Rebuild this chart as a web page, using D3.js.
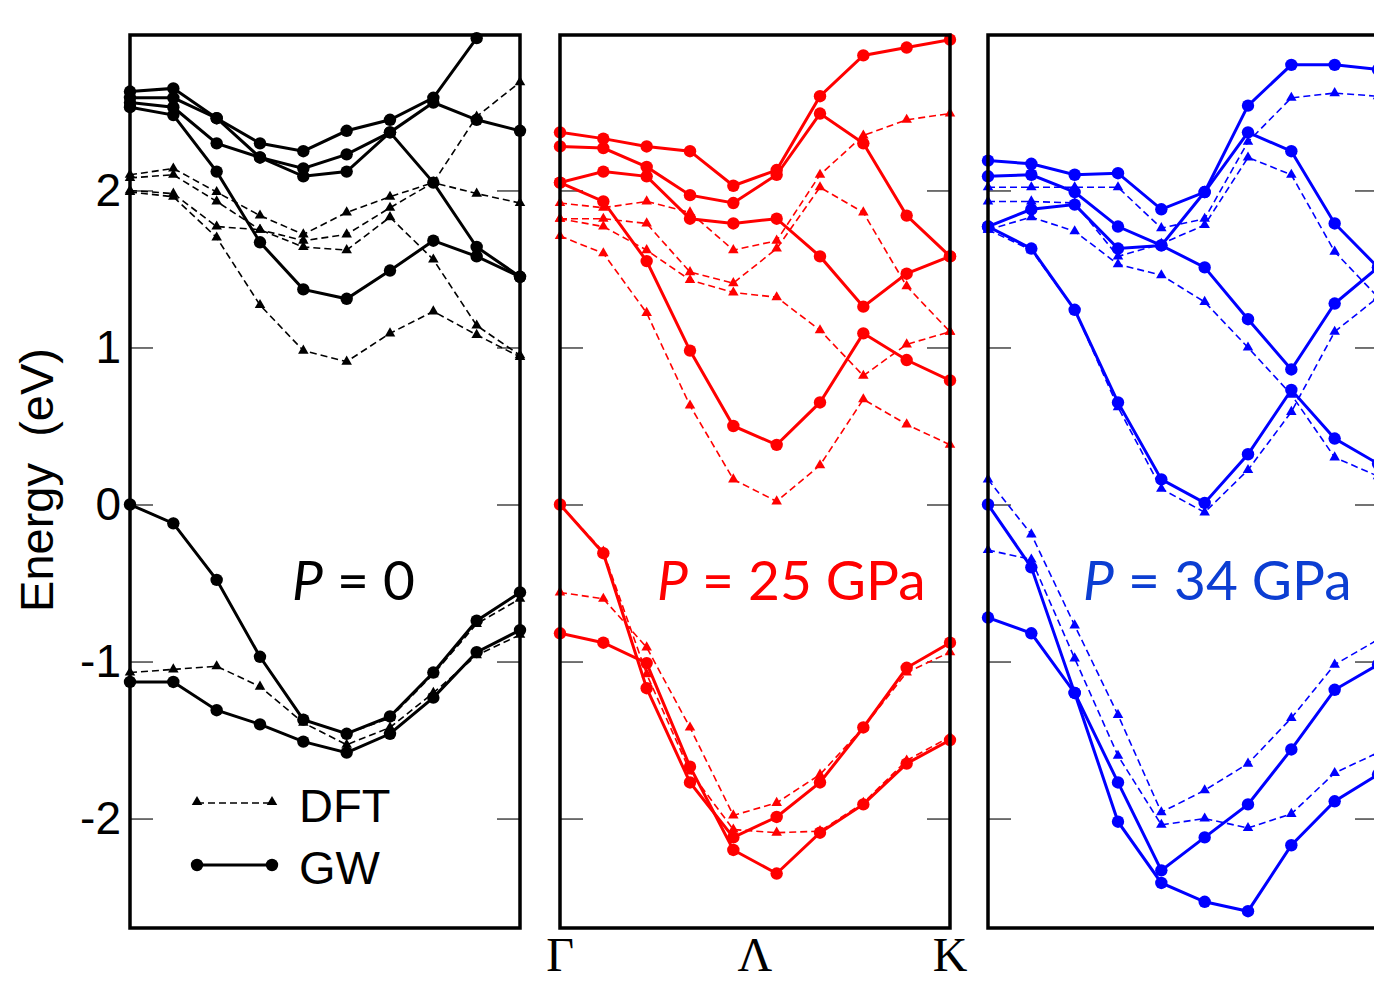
<!DOCTYPE html>
<html>
<head>
<meta charset="utf-8">
<script src="https://cdn.jsdelivr.net/npm/d3@7/dist/d3.min.js"></script>
<style>
  body { margin: 0; background: #fff; }
</style>
</head>
<body>
<svg id="chart"></svg>
<script>
// k-path sample points (Γ ... Λ ... K)
const kPoints = [0, 1, 2, 3, 4, 5, 6, 7, 8, 9];
const kLabels = ['Γ', 'Λ', 'K'];
const kLabelAt = [0, 4.5, 9];
const yTicks = [-2, -1, 0, 1, 2];

// P = 0
const p0Gw = [
  [2.63, 2.65, 2.46, 2.30, 2.25, 2.38, 2.45, 2.59, 2.97, 3.30],
  [2.59, 2.59, 2.46, 2.21, 2.14, 2.23, 2.37, 2.56, 2.45, 2.38],
  [2.56, 2.53, 2.30, 2.21, 2.09, 2.12, 2.37, 2.05, 1.64, 1.45],
  [2.53, 2.48, 2.12, 1.67, 1.37, 1.31, 1.49, 1.68, 1.58, 1.45],
  [0.00, -0.12, -0.48, -0.97, -1.37, -1.46, -1.35, -1.07, -0.74, -0.56],
  [-1.13, -1.13, -1.31, -1.40, -1.51, -1.58, -1.46, -1.23, -0.94, -0.80]
];
const p0Dft = [
  [2.10, 2.14, 1.99, 1.84, 1.72, 1.86, 1.96, 2.05, 2.47, 2.69],
  [2.08, 2.10, 1.93, 1.75, 1.68, 1.72, 1.89, 2.05, 1.98, 1.92],
  [2.00, 1.98, 1.77, 1.75, 1.64, 1.62, 1.83, 1.56, 1.14, 0.95],
  [1.99, 1.96, 1.70, 1.27, 0.98, 0.91, 1.09, 1.23, 1.08, 0.94],
  [0.00, -0.12, -0.48, -0.97, -1.37, -1.46, -1.36, -1.08, -0.76, -0.60],
  [-1.07, -1.05, -1.03, -1.16, -1.39, -1.53, -1.42, -1.20, -0.96, -0.83]
];

// P = 25 GPa
const p25Gw = [
  [2.37, 2.33, 2.28, 2.25, 2.03, 2.13, 2.60, 2.86, 2.91, 2.96],
  [2.28, 2.27, 2.15, 1.97, 1.92, 2.10, 2.49, 2.30, 1.84, 1.58],
  [2.05, 2.12, 2.09, 1.82, 1.79, 1.82, 1.58, 1.26, 1.47, 1.58],
  [2.05, 1.93, 1.55, 0.98, 0.50, 0.38, 0.65, 1.09, 0.92, 0.79],
  [0.00, -0.31, -1.17, -1.77, -2.12, -1.99, -1.77, -1.42, -1.04, -0.88],
  [-0.82, -0.88, -1.01, -1.67, -2.20, -2.35, -2.09, -1.91, -1.65, -1.50]
];
const p25Dft = [
  [1.92, 1.89, 1.93, 1.86, 1.62, 1.68, 2.10, 2.35, 2.45, 2.49],
  [1.82, 1.82, 1.79, 1.48, 1.41, 1.63, 2.02, 1.86, 1.39, 1.10],
  [1.82, 1.77, 1.62, 1.43, 1.35, 1.32, 1.11, 0.82, 1.02, 1.10],
  [1.71, 1.60, 1.22, 0.63, 0.16, 0.02, 0.25, 0.67, 0.51, 0.38],
  [0.00, -0.30, -1.08, -1.70, -2.07, -2.09, -2.08, -1.90, -1.63, -1.48],
  [-0.56, -0.60, -0.91, -1.42, -1.98, -1.90, -1.72, -1.42, -1.07, -0.94]
];

// P = 34 GPa
const p34Gw = [
  [2.19, 2.17, 2.10, 2.11, 1.88, 1.99, 2.54, 2.80, 2.80, 2.77],
  [2.09, 2.10, 1.99, 1.77, 1.65, 1.99, 2.37, 2.25, 1.79, 1.51],
  [1.77, 1.88, 1.91, 1.63, 1.65, 1.51, 1.18, 0.86, 1.28, 1.51],
  [1.77, 1.63, 1.24, 0.65, 0.16, 0.01, 0.32, 0.73, 0.42, 0.26],
  [0.00, -0.40, -1.20, -1.77, -2.33, -2.12, -1.91, -1.56, -1.18, -1.02],
  [-0.72, -0.82, -1.20, -2.02, -2.41, -2.53, -2.59, -2.17, -1.89, -1.72]
];
const p34Dft = [
  [2.02, 2.02, 2.02, 2.02, 1.76, 1.82, 2.31, 2.59, 2.62, 2.60],
  [1.93, 1.93, 1.92, 1.58, 1.66, 1.78, 2.21, 2.10, 1.61, 1.32],
  [1.75, 1.83, 1.74, 1.53, 1.46, 1.29, 1.00, 0.70, 0.30, 0.18],
  [1.75, 1.62, 1.24, 0.62, 0.10, -0.05, 0.22, 0.59, 1.10, 1.32],
  [0.16, -0.19, -0.77, -1.34, -1.96, -1.82, -1.65, -1.36, -1.02, -0.86],
  [-0.29, -0.35, -0.98, -1.60, -2.04, -2.00, -2.06, -1.97, -1.71, -1.58]
];

const panelNames = ['0', '25 GPa', '34 GPa'];

const width = 1374, height = 983;
const plotTop = 35, plotBottom = 928;
const panelW = 390;
const panelX = [130, 560, 988];
const lineColors = ['#000000', '#ff0000', '#0000ff'];
const textColors = ['#000000', '#ff0000', '#0c3ed2'];
const labelX = [292, 657, 1083];

const panels = [
  { gw: p0Gw, dft: p0Dft },
  { gw: p25Gw, dft: p25Dft },
  { gw: p34Gw, dft: p34Dft }
];

const svg = d3.select('#chart')
  .attr('width', width)
  .attr('height', height)
  .style('font-family', '"Liberation Sans", Arial, sans-serif');

const yDomain = [-2.697, 2.99];
const y = d3.scaleLinear().domain(yDomain).range([plotBottom, plotTop]);
const triangle = d3.symbol().type(d3.symbolTriangle).size(48);

panels.forEach((p, pi) => {
  const x0 = panelX[pi];
  const x = d3.scaleLinear().domain([0, 9]).range([x0, x0 + panelW]);
  const color = lineColors[pi];
  const g = svg.append('g');

  g.append('clipPath').attr('id', 'clip' + pi)
    .append('rect')
    .attr('x', x0).attr('y', plotTop)
    .attr('width', panelW).attr('height', plotBottom - plotTop);

  // inner ticks on both sides
  g.append('g')
    .attr('transform', `translate(${x0},0)`)
    .call(d3.axisRight(y).tickValues(yTicks).tickSize(23).tickFormat(''))
    .call(a => a.select('.domain').remove())
    .call(a => a.selectAll('line').attr('stroke', '#444').attr('stroke-width', 1.5));
  g.append('g')
    .attr('transform', `translate(${x0 + panelW},0)`)
    .call(d3.axisLeft(y).tickValues(yTicks).tickSize(23).tickFormat(''))
    .call(a => a.select('.domain').remove())
    .call(a => a.selectAll('line').attr('stroke', '#444').attr('stroke-width', 1.5));

  const line = d3.line()
    .x((d, i) => x(kPoints[i]))
    .y(d => y(d));

  const inRange = d => d >= yDomain[0] && d <= yDomain[1];

  // DFT: dashed + triangles
  const dftG = g.append('g');
  dftG.selectAll('path.dft')
    .data(p.dft)
    .enter()
    .append('path')
    .attr('class', 'dft')
    .attr('clip-path', `url(#clip${pi})`)
    .attr('d', line)
    .attr('fill', 'none')
    .attr('stroke', color)
    .attr('stroke-width', 1.6)
    .attr('stroke-dasharray', '7,4');
  p.dft.forEach(band => {
    dftG.selectAll(null)
      .data(band.map((v, i) => [kPoints[i], v]).filter(d => inRange(d[1])))
      .enter()
      .append('path')
      .attr('d', triangle)
      .attr('transform', d => `translate(${x(d[0])},${y(d[1])})`)
      .attr('fill', color);
  });

  // GW: solid + circles
  const gwG = g.append('g');
  gwG.selectAll('path.gw')
    .data(p.gw)
    .enter()
    .append('path')
    .attr('class', 'gw')
    .attr('clip-path', `url(#clip${pi})`)
    .attr('d', line)
    .attr('fill', 'none')
    .attr('stroke', color)
    .attr('stroke-width', 3);
  p.gw.forEach(band => {
    gwG.selectAll(null)
      .data(band.map((v, i) => [kPoints[i], v]).filter(d => inRange(d[1])))
      .enter()
      .append('circle')
      .attr('cx', d => x(d[0]))
      .attr('cy', d => y(d[1]))
      .attr('r', 6.2)
      .attr('fill', color);
  });

  // frame
  g.append('rect')
    .attr('x', x0).attr('y', plotTop)
    .attr('width', panelW).attr('height', plotBottom - plotTop)
    .attr('fill', 'none')
    .attr('stroke', '#000')
    .attr('stroke-width', 3.5);

  // pressure label
  const t = g.append('text')
    .attr('x', labelX[pi])
    .attr('y', 600)
    .attr('fill', textColors[pi])
    .style('font-family', 'Lato, "Open Sans", sans-serif')
    .style('font-size', '55px');
  t.append('tspan').attr('font-style', 'italic').text('P');
  t.append('tspan').text(' = ' + panelNames[pi]);

  // k labels under middle panel
  if (pi === 1) {
    g.selectAll('text.klab')
      .data(kLabels)
      .enter()
      .append('text')
      .attr('class', 'klab')
      .attr('x', (d, i) => x(kLabelAt[i]))
      .attr('y', 971)
      .attr('text-anchor', 'middle')
      .style('font-family', '"Liberation Serif", "Times New Roman", serif')
      .style('font-size', '48px')
      .text(d => d);
  }
});

// y tick labels on first panel
svg.append('g')
  .attr('transform', `translate(${panelX[0]},0)`)
  .call(d3.axisLeft(y).tickValues(yTicks).tickSize(0).tickPadding(9).tickFormat(d => String(d)))
  .call(a => a.select('.domain').remove())
  .call(a => a.selectAll('text')
    .style('font-family', '"Liberation Sans", Arial, sans-serif')
    .style('font-size', '46px')
    .attr('fill', '#000'));

svg.append('text')
  .attr('transform', 'translate(53,480) rotate(-90)')
  .attr('text-anchor', 'middle')
  .style('font-size', '47px')
  .text('Energy\u00a0 (eV)');

// legend
const legend = svg.append('g');
legend.append('line')
  .attr('x1', 197).attr('x2', 272).attr('y1', 803).attr('y2', 803)
  .attr('stroke', '#000').attr('stroke-width', 1.6).attr('stroke-dasharray', '7,4');
legend.selectAll('path.lt')
  .data([197, 272])
  .enter()
  .append('path')
  .attr('d', triangle)
  .attr('transform', d => `translate(${d},802)`)
  .attr('fill', '#000');
legend.append('line')
  .attr('x1', 197).attr('x2', 272).attr('y1', 865).attr('y2', 865)
  .attr('stroke', '#000').attr('stroke-width', 3);
legend.selectAll('circle')
  .data([197, 272])
  .enter()
  .append('circle')
  .attr('cx', d => d).attr('cy', 865).attr('r', 6.2)
  .attr('fill', '#000');
legend.append('text').attr('x', 299).attr('y', 822).style('font-size', '47px').text('DFT');
legend.append('text').attr('x', 299).attr('y', 884).style('font-size', '47px').text('GW');
</script>
</body>
</html>
